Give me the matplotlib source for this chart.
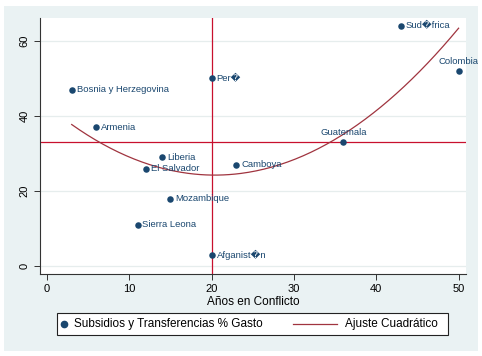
import numpy as np
import matplotlib
matplotlib.use("Agg")
import matplotlib.pyplot as plt
from matplotlib.patches import Rectangle
from matplotlib.lines import Line2D

countries = ["Bosnia y Herzegovina", "Armenia", "Per\ufffd", "Liberia", "El Salvador",
             "Camboya", "Sud\ufffdfrica", "Colombia", "Guatemala", "Mozambique",
             "Sierra Leona", "Afganist\ufffdn"]
years = [3, 6, 20, 14, 12, 23, 43, 50, 36, 15, 11, 20]
subsidies = [47, 37, 50, 29, 26, 27, 64, 52, 33, 18, 11, 3]
label_pos = ["r", "r", "r", "r", "r", "r", "r", "t", "t", "r", "r", "r"]
xticks = [0, 10, 20, 30, 40, 50]
yticks = [0, 20, 40, 60]
mean_x = 20
mean_y = 33
legend_labels = ["Subsidios y Transferencias % Gasto", "Ajuste Cuadr\u00e1tico"]

FONT = ["Liberation Sans", "DejaVu Sans"]
plt.rcParams["font.family"] = FONT

W, H = 482, 356
fig = plt.figure(figsize=(W / 100, H / 100), dpi=100)
fig.patch.set_facecolor("white")
fig.add_artist(Rectangle((4 / W, (H - 351) / H), 474 / W, 345 / H,
                         transform=fig.transFigure, facecolor="#eaf2f3",
                         edgecolor="none", zorder=-10))

ax = fig.add_axes([40 / W, (H - 274) / H, 426 / W, 256 / H])
ax.set_facecolor("white")
ax.set_xlim(-0.85, 50.9)
ax.set_ylim(-2.1, 66.1)

navy = "#1a476f"
red = "#c8102e"
fitc = "#a0343f"

for yt in yticks:
    ax.axhline(yt, color="#e6eded", lw=0.9, zorder=0)

ax.axvline(mean_x, color=red, lw=0.9, zorder=1)
ax.axhline(mean_y, color=red, lw=0.9, zorder=1)

coef = np.polyfit(years, subsidies, 2)
xs = np.linspace(min(years), max(years), 200)
ax.plot(xs, np.polyval(coef, xs), color=fitc, lw=0.9, zorder=2)

ax.scatter(years, subsidies, s=22, color=navy, zorder=3, linewidths=0)
for c, x, y, p in zip(countries, years, subsidies, label_pos):
    if p == "r":
        ax.annotate(c, (x, y), xytext=(3.5, 0), textcoords="offset points",
                    ha="left", va="center", fontsize=6.8, color=navy,
                    family=FONT, zorder=4)
    else:
        ax.annotate(c, (x, y), xytext=(0, 3.5), textcoords="offset points",
                    ha="center", va="bottom", fontsize=6.8, color=navy,
                    family=FONT, zorder=4)

for s in ["top", "right"]:
    ax.spines[s].set_visible(False)
for s in ["left", "bottom"]:
    ax.spines[s].set_color("#333333")
    ax.spines[s].set_linewidth(0.8)

ax.set_xticks(xticks)
ax.set_yticks(yticks)
ax.tick_params(axis="both", labelsize=8, length=4, width=0.7, color="#333333")
for lbl in ax.get_yticklabels():
    lbl.set_rotation(90)
    lbl.set_va("center")
ax.set_xlabel("A\u00f1os en Conflicto", fontsize=8.5, labelpad=1)

# manual legend box (figure pixel coordinates)
def fx(px):
    return px / W

def fy(py):
    return (H - py) / H

fig.add_artist(Rectangle((fx(57), fy(335)), (448 - 57) / W, 22 / H,
                         transform=fig.transFigure, facecolor="white",
                         edgecolor="#222222", lw=0.8, zorder=5))
ly = fy(324)
fig.add_artist(Line2D([fx(64)], [ly], marker="o", ls="none", color=navy,
                      markersize=4.5, transform=fig.transFigure, zorder=6))
fig.text(fx(74), ly, legend_labels[0], fontsize=8.5, va="center", ha="left",
         zorder=6)
fig.add_artist(Line2D([fx(293), fx(337)], [ly, ly], color=fitc, lw=0.9,
                      transform=fig.transFigure, zorder=6))
fig.text(fx(345), ly, legend_labels[1], fontsize=8.5, va="center", ha="left",
         zorder=6)

fig.savefig("out.png", dpi=100)
